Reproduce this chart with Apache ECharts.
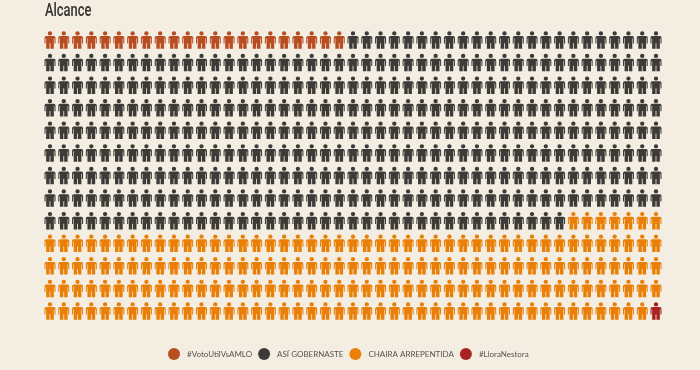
<!DOCTYPE html>
<html><head><meta charset="utf-8">
<style>html,body{margin:0;padding:0;background:#f3ede2}#c{width:700px;height:370px}</style>
<script src="https://cdn.jsdelivr.net/npm/echarts@6/dist/echarts.min.js"></script>
</head><body><div id="c"></div>
<script>
const title = 'Alcance';
const categories = ['#VotoUtilVsAMLO', 'ASÍ GOBERNASTE', 'CHAIRA ARREPENTIDA', '#LloraNestora'];
const counts = [22, 376, 186, 1];
const colors = ['#b94d22', '#3c3b37', '#e97f06', '#a8221f'];
const columns = 45;
const rows = 13;
const person = 'path://M11 0a4.4 4.4 0 1 1 0 8.8a4.4 4.4 0 1 1 0-8.8Z M3.5 10H18.5a3.5 3.5 0 0 1 3.5 3.5V25H19.9V14.5H18.7V36H11.8V24.5H10.2V36H3.3V14.5H2.1V25H0V13.5a3.5 3.5 0 0 1 3.5-3.5Z';

let index = 0;
const series = categories.map((name, s) => {
  const data = [];
  for (let i = 0; i < counts[s]; i++, index++) {
    data.push([index % columns, Math.floor(index / columns)]);
  }
  return {
    name, type: 'scatter', data, symbol: person, symbolSize: [11, 17.5],
    symbolKeepAspect: false, silent: true, animation: false,
    itemStyle: { color: colors[s], opacity: 1 }
  };
});

const chart = echarts.init(document.getElementById('c'), null, { renderer: 'canvas' });
chart.setOption({
  backgroundColor: '#f3ede2',
  animation: false,
  color: colors,
  graphic: [{
    type: 'text', left: 45, top: 2, scaleX: 0.68, silent: true,
    style: { text: title, fontFamily: 'Roboto, sans-serif', fontSize: 19, fontWeight: 500, fill: '#33322e' }
  }],
  legend: {
    bottom: 5, left: 163, icon: 'circle', itemWidth: 12, itemHeight: 12, itemGap: 6,
    data: categories.map(name => ({ name, icon: 'circle' })),
    textStyle: { fontFamily: 'Lato, "Noto Sans", sans-serif', fontSize: 8, color: '#55534e', padding: [0, 0, 0, 2] },
    selectedMode: false
  },
  grid: { left: 50, top: 40, width: 606, height: 271, containLabel: false },
  xAxis: { type: 'value', min: 0, max: columns - 1, show: false },
  yAxis: { type: 'value', min: 0, max: rows - 1, inverse: true, show: false },
  series
});
</script></body></html>
